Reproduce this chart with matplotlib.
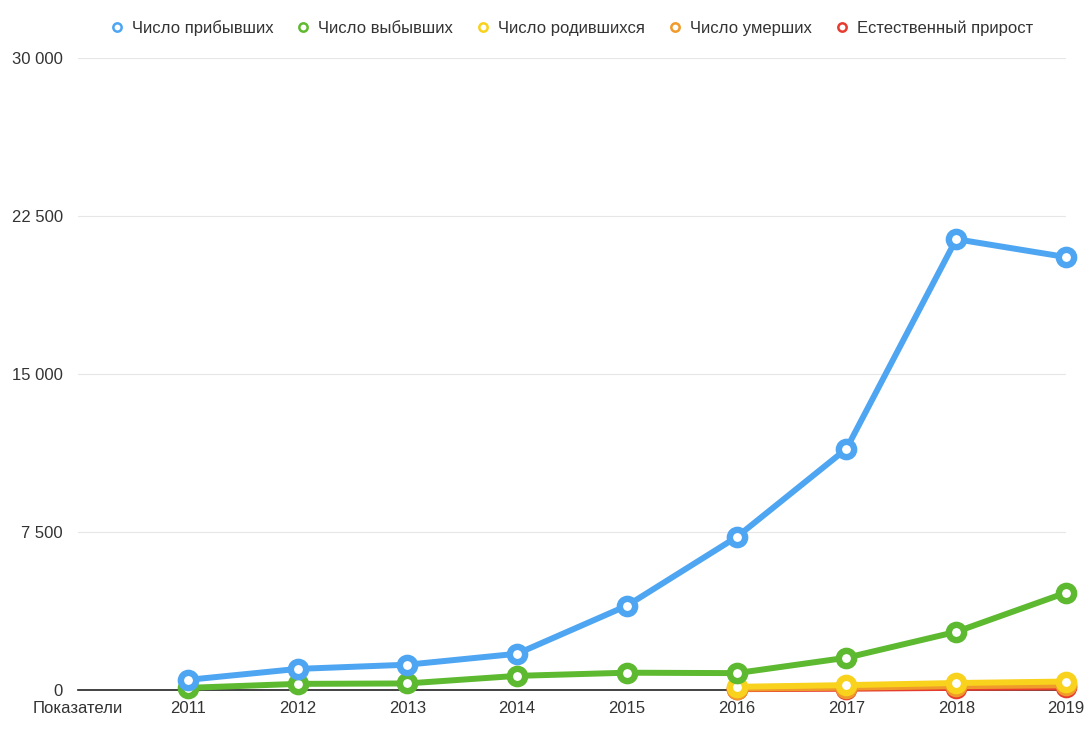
import matplotlib.pyplot as plt
from matplotlib.lines import Line2D

plt.rcParams['font.family'] = ['Liberation Sans', 'DejaVu Sans']

# ── Данные ──────────────────────────────────────────────────────────────
categories = ["Показатели", "2011", "2012", "2013", "2014", "2015",
              "2016", "2017", "2018", "2019"]
years_all = ["2011", "2012", "2013", "2014", "2015", "2016", "2017", "2018", "2019"]
years_late = ["2016", "2017", "2018", "2019"]

arrived = [480, 1000, 1200, 1720, 4000, 7260, 11450, 21400, 20550]
departed = [100, 290, 310, 670, 820, 800, 1530, 2760, 4620]
born = [150, 230, 330, 400]
died = [60, 110, 180, 220]
natural_growth = [40, 60, 100, 120]

series = [
    ("Число прибывших", years_all, arrived, '#4ea5f2'),
    ("Число выбывших", years_all, departed, '#5db92f'),
    ("Число родившихся", years_late, born, '#f8d21c'),
    ("Число умерших", years_late, died, '#ef9a2a'),
    ("Естественный прирост", years_late, natural_growth, '#e63b2e'),
]
yticks = [0, 7500, 15000, 22500, 30000]
ytick_labels = ["0", "7 500", "15 000", "22 500", "30 000"]

# ── Рисунок ─────────────────────────────────────────────────────────────
fig = plt.figure(figsize=(10.85, 7.4), dpi=100)
ax = fig.add_axes([0.0719, 0.0676, 0.9106, 0.854])

xpos = {c: i for i, c in enumerate(categories)}

# рисуем в обратном порядке, чтобы синяя линия была сверху
for z, (name, xs, ys, col) in enumerate(reversed(series)):
    ax.plot([xpos[x] for x in xs], ys, color=col, lw=4.3,
            marker='o', ms=11, mfc='white', mec=col, mew=4.6,
            solid_capstyle='round', zorder=3 + z, clip_on=False)

ax.set_xlim(0, len(categories) - 1)
ax.set_ylim(0, 30000)
ax.set_xticks(range(len(categories)))
ax.set_xticklabels(categories)
ax.set_yticks(yticks)
ax.set_yticklabels(ytick_labels)
ax.tick_params(length=0, labelsize=12, labelcolor='#333333')
ax.tick_params(axis='y', pad=11)
ax.tick_params(axis='x', pad=8)

ax.grid(axis='y', color='#e6e6e6', lw=0.8)
ax.set_axisbelow(True)
for s in ['top', 'right', 'left']:
    ax.spines[s].set_visible(False)
ax.spines['bottom'].set_color('#222222')
ax.spines['bottom'].set_linewidth(1.2)

handles = [Line2D([], [], ls='none', marker='o', ms=6, mfc='white',
                  mec=col, mew=1.8, label=name)
           for name, _, _, col in series]
fig.legend(handles=handles, loc='center', bbox_to_anchor=(0.526, 0.962),
           ncol=5, frameon=False, fontsize=12, handletextpad=0.4,
           columnspacing=1.3, handlelength=1.0, labelcolor='#333333')

plt.savefig("out.png", dpi=100)
